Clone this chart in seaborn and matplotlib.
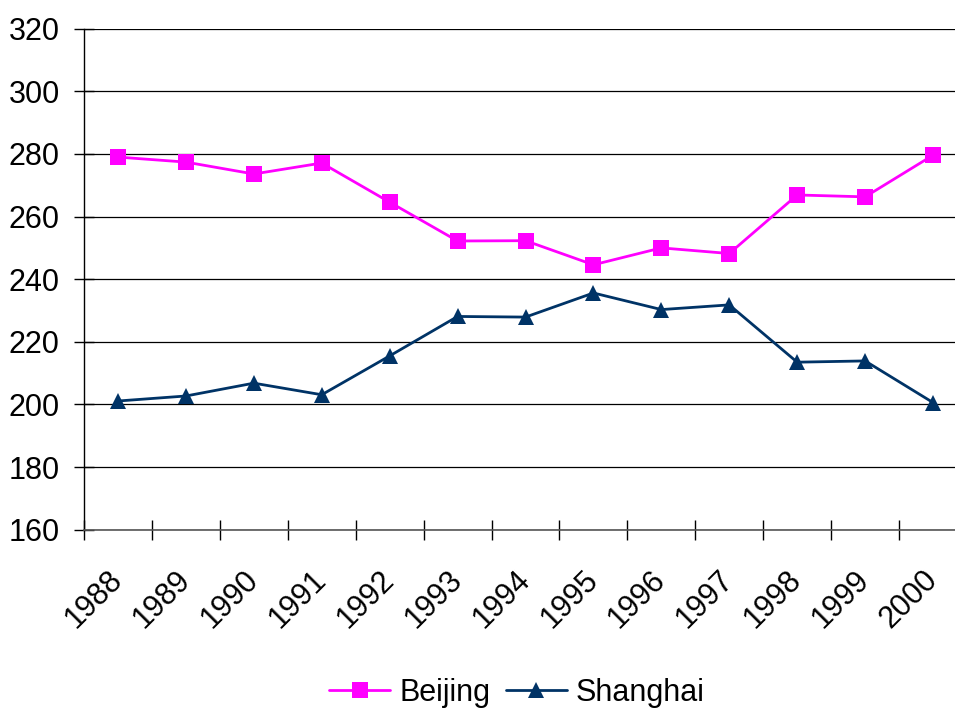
import seaborn as sns
import matplotlib.pyplot as plt
import numpy as np
import pandas as pd

years = [1988, 1989, 1990, 1991, 1992, 1993, 1994, 1995, 1996, 1997, 1998, 1999, 2000]
beijing = [279.0, 277.4, 273.6, 277.1, 264.6, 252.2, 252.3, 244.6, 250.0, 248.2, 266.9, 266.3, 279.6]
shanghai = [201.1, 202.7, 206.8, 203.1, 215.5, 228.1, 227.9, 235.6, 230.3, 231.8, 213.5, 213.9, 200.6]
yticks = [160, 180, 200, 220, 240, 260, 280, 300, 320]

df = pd.DataFrame({
    "year": years * 2,
    "value": beijing + shanghai,
    "city": ["Beijing"] * len(years) + ["Shanghai"] * len(years),
})

sns.set_style("white", {"xtick.bottom": True, "ytick.left": True,
                        "text.color": "black", "xtick.color": "black", "ytick.color": "black"})
plt.rcParams['font.family'] = ['Liberation Sans', 'DejaVu Sans']

fig = plt.figure(figsize=(9.55, 7.1), dpi=100)
ax = fig.add_axes([84 / 955, 1 - 529.7 / 710, (967 - 84) / 955, (529.7 - 28.7) / 710])

sns.lineplot(data=df, x="year", y="value", hue="city", style="city",
             palette={"Beijing": "#FF00FF", "Shanghai": "#003366"},
             markers={"Beijing": "s", "Shanghai": "^"},
             dashes=False, linewidth=2, markersize=11, markeredgewidth=0,
             legend=False, ax=ax)

ax.set_xlim(years[0] - 0.5, years[-1] + 0.5)
ax.set_ylim(yticks[0], yticks[-1])
ax.set_yticks(yticks)
ax.set_yticklabels([str(v) for v in yticks], fontsize=22)
ax.set_xticks([y - 0.5 for y in years] + [years[-1] + 0.5])
ax.set_xticklabels([])
ax.set_xticks(years, minor=True)
ax.set_xticklabels([str(y) for y in years], minor=True, fontsize=22,
                   rotation=45, ha="right", va="center", rotation_mode="anchor")
ax.tick_params(axis="x", which="major", bottom=True, direction="inout", length=15, width=1, color="black")
ax.tick_params(axis="x", which="minor", bottom=True, length=0, pad=33, labelcolor="black")
ax.tick_params(axis="y", which="major", left=True, direction="inout", length=15, width=1,
               color="black", pad=10, labelcolor="black")
ax.set_xlabel("")
ax.set_ylabel("")

ax.grid(axis="y", color="black", linewidth=0.9)
ax.set_axisbelow(True)
for s in ["top", "right"]:
    ax.spines[s].set_visible(False)
ax.spines["left"].set_color("black")
ax.spines["left"].set_linewidth(1)
ax.spines["bottom"].set_color("#555555")
ax.spines["bottom"].set_linewidth(1.2)

handles = [
    plt.Line2D([], [], color="#FF00FF", marker="s", markersize=11, linewidth=2, markeredgewidth=0),
    plt.Line2D([], [], color="#003366", marker="^", markersize=11, linewidth=2, markeredgewidth=0),
]
fig.legend(handles, ["Beijing", "Shanghai"], loc="center", bbox_to_anchor=(517 / 955, 17 / 710),
           ncol=2, frameon=False, fontsize=22, handlelength=2.0, handletextpad=0.3,
           columnspacing=0.5, labelcolor="black")

fig.savefig("out.png", dpi=100)
